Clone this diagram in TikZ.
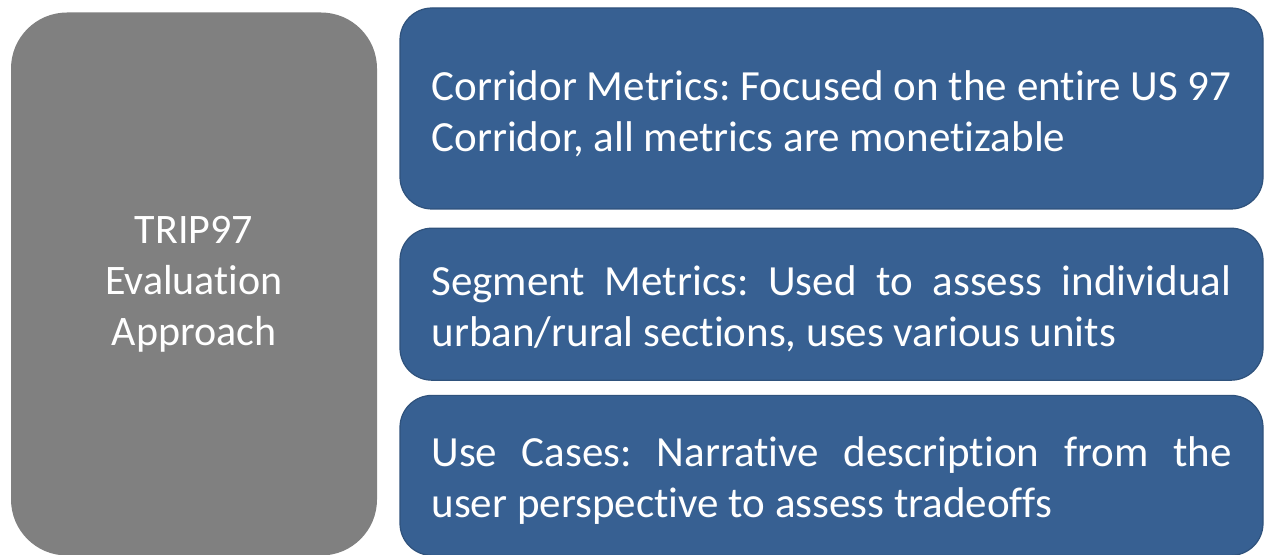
\documentclass[tikz,border=0pt]{standalone}
\usepackage{fontspec}
\setmainfont[Ligatures=NoCommon]{Carlito}
\usepackage{tikz}
\usetikzlibrary{positioning}
\definecolor{boxblue}{RGB}{55,96,146}
\definecolor{boxgray}{RGB}{128,128,128}
\frenchspacing
\hyphenpenalty=10000
\tolerance=9999
\tikzstyle{approach} = [rectangle, rounded corners=28pt, fill=boxgray, text=white, align=center, minimum width=183pt, minimum height=271.5pt, inner sep=0pt, font=\fontsize{21}{25.5}\selectfont]
\tikzstyle{metric} = [rectangle, rounded corners=16pt, fill=boxblue, draw=boxblue!85!black, line width=0.6pt, text=white, text width=400pt, align=justify, minimum width=431.5pt, inner sep=0pt, font=\fontsize{21.5}{25.5}\selectfont, execute at begin node={\rule{0pt}{20pt}}]

\begin{document}
\begin{tikzpicture}[x=0.5pt,y=-0.5pt]
\useasboundingbox (0,0) rectangle (1264,555);

\node[approach] (trip) at (194,284) {TRIP97\\Evaluation\\Approach};

\node[metric, minimum height=100.5pt] (corridor) at (831.5,108.5) {Corridor Metrics: Focused on the entire US 97 Corridor, all metrics are monetizable};
\node[metric, minimum height=76pt, below=9pt of corridor] (segment) {Segment Metrics: Used to assess individual urban/rural sections, uses various units};
\node[metric, minimum height=80pt, below=7pt of segment] (usecases) {Use Cases: Narrative description from the\linebreak user perspective to assess tradeoffs};

\end{tikzpicture}
\end{document}
